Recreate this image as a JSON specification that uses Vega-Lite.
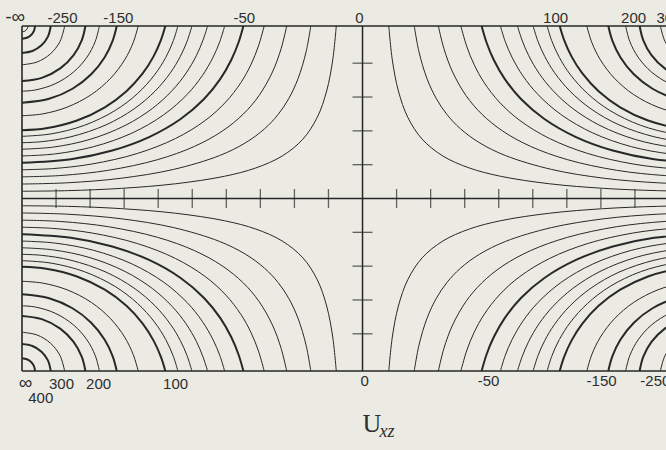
{
  "$schema": "https://vega.github.io/schema/vega-lite/v6.json",
  "autosize": "none",
  "width": 644,
  "height": 345,
  "padding": {"left": 22, "top": 26, "right": 0, "bottom": 79},
  "background": "#ebebe4",
  "config": {"view": {"stroke": null}},
  "datasets": {
    "contours": [
      {"q":"tl","v":-10,"x":-0.771,"y":5.1},{"q":"tl","v":-10,"x":-0.875,"y":4.095},{"q":"tl","v":-10,"x":-1.053,"y":3.18},{"q":"tl","v":-10,"x":-1.329,"y":2.401},{"q":"tl","v":-10,"x":-1.753,"y":1.753},{"q":"tl","v":-10,"x":-2.361,"y":1.255},{"q":"tl","v":-10,"x":-3.133,"y":0.904},{"q":"tl","v":-10,"x":-4.054,"y":0.657},{"q":"tl","v":-10,"x":-5.495,"y":0.435},{"q":"tl","v":-10,"x":-7.077,"y":0.3},{"q":"tl","v":-10,"x":-8.663,"y":0.232},{"q":"tl","v":-10,"x":-10,"y":0.2145},
      {"q":"tl","v":-20,"x":-1.519,"y":5.1},{"q":"tl","v":-20,"x":-1.659,"y":4.33},{"q":"tl","v":-20,"x":-1.892,"y":3.547},{"q":"tl","v":-20,"x":-2.168,"y":2.95},{"q":"tl","v":-20,"x":-2.481,"y":2.481},{"q":"tl","v":-20,"x":-2.874,"y":2.064},{"q":"tl","v":-20,"x":-3.426,"y":1.654},{"q":"tl","v":-20,"x":-4.197,"y":1.27},{"q":"tl","v":-20,"x":-5.545,"y":0.861},{"q":"tl","v":-20,"x":-7.096,"y":0.598},{"q":"tl","v":-20,"x":-8.673,"y":0.464},{"q":"tl","v":-20,"x":-10,"y":0.428},
      {"q":"tl","v":-30,"x":-2.227,"y":5.1},{"q":"tl","v":-30,"x":-2.388,"y":4.439},{"q":"tl","v":-30,"x":-2.645,"y":3.741},{"q":"tl","v":-30,"x":-3.041,"y":3.041},{"q":"tl","v":-30,"x":-3.499,"y":2.498},{"q":"tl","v":-30,"x":-4.119,"y":1.992},{"q":"tl","v":-30,"x":-4.937,"y":1.54},{"q":"tl","v":-30,"x":-6.026,"y":1.146},{"q":"tl","v":-30,"x":-7.463,"y":0.834},{"q":"tl","v":-30,"x":-8.858,"y":0.68},{"q":"tl","v":-30,"x":-10,"y":0.64},
      {"q":"tl","v":-40,"x":-2.887,"y":5.1},{"q":"tl","v":-40,"x":-3.056,"y":4.51},{"q":"tl","v":-40,"x":-3.274,"y":3.965},{"q":"tl","v":-40,"x":-3.571,"y":3.428},{"q":"tl","v":-40,"x":-4.017,"y":2.852},{"q":"tl","v":-40,"x":-4.618,"y":2.308},{"q":"tl","v":-40,"x":-5.491,"y":1.774},{"q":"tl","v":-40,"x":-6.616,"y":1.33},{"q":"tl","v":-40,"x":-7.94,"y":1.021},{"q":"tl","v":-40,"x":-9.098,"y":0.884},{"q":"tl","v":-40,"x":-10,"y":0.8495},
      {"q":"tl","v":-50,"x":-3.498,"y":5.1},{"q":"tl","v":-50,"x":-3.642,"y":4.612},{"q":"tl","v":-50,"x":-3.852,"y":4.104},{"q":"tl","v":-50,"x":-4.18,"y":3.531},{"q":"tl","v":-50,"x":-4.654,"y":2.942},{"q":"tl","v":-50,"x":-5.341,"y":2.35},{"q":"tl","v":-50,"x":-6.269,"y":1.816},{"q":"tl","v":-50,"x":-7.349,"y":1.418},{"q":"tl","v":-50,"x":-8.564,"y":1.161},{"q":"tl","v":-50,"x":-10,"y":1.056},
      {"q":"tl","v":-60,"x":-4.049,"y":5.1},{"q":"tl","v":-60,"x":-4.19,"y":4.643},{"q":"tl","v":-60,"x":-4.396,"y":4.163},{"q":"tl","v":-60,"x":-4.708,"y":3.628},{"q":"tl","v":-60,"x":-5.147,"y":3.08},{"q":"tl","v":-60,"x":-5.841,"y":2.473},{"q":"tl","v":-60,"x":-6.764,"y":1.937},{"q":"tl","v":-60,"x":-7.896,"y":1.532},{"q":"tl","v":-60,"x":-9.041,"y":1.317},{"q":"tl","v":-60,"x":-10,"y":1.2586},
      {"q":"tl","v":-70,"x":-4.55,"y":5.1},{"q":"tl","v":-70,"x":-4.684,"y":4.684},{"q":"tl","v":-70,"x":-4.881,"y":4.222},{"q":"tl","v":-70,"x":-5.176,"y":3.714},{"q":"tl","v":-70,"x":-5.587,"y":3.195},{"q":"tl","v":-70,"x":-6.171,"y":2.662},{"q":"tl","v":-70,"x":-6.975,"y":2.157},{"q":"tl","v":-70,"x":-8.004,"y":1.748},{"q":"tl","v":-70,"x":-9.073,"y":1.521},{"q":"tl","v":-70,"x":-10,"y":1.457},
      {"q":"tl","v":-80,"x":-5.009,"y":5.1},{"q":"tl","v":-80,"x":-5.154,"y":4.643},{"q":"tl","v":-80,"x":-5.351,"y":4.2},{"q":"tl","v":-80,"x":-5.641,"y":3.718},{"q":"tl","v":-80,"x":-6.09,"y":3.176},{"q":"tl","v":-80,"x":-6.709,"y":2.649},{"q":"tl","v":-80,"x":-7.533,"y":2.177},{"q":"tl","v":-80,"x":-8.563,"y":1.825},{"q":"tl","v":-80,"x":-9.425,"y":1.68},{"q":"tl","v":-80,"x":-10,"y":1.65},
      {"q":"tl","v":-90,"x":-5.422,"y":5.1},{"q":"tl","v":-90,"x":-5.553,"y":4.673},{"q":"tl","v":-90,"x":-5.779,"y":4.171},{"q":"tl","v":-90,"x":-6.11,"y":3.652},{"q":"tl","v":-90,"x":-6.606,"y":3.104},{"q":"tl","v":-90,"x":-7.264,"y":2.602},{"q":"tl","v":-90,"x":-8.166,"y":2.164},{"q":"tl","v":-90,"x":-9.146,"y":1.91},{"q":"tl","v":-90,"x":-10,"y":1.838},
      {"q":"tl","v":-100,"x":-5.791,"y":5.1},{"q":"tl","v":-100,"x":-5.918,"y":4.692},{"q":"tl","v":-100,"x":-6.136,"y":4.202},{"q":"tl","v":-100,"x":-6.456,"y":3.699},{"q":"tl","v":-100,"x":-6.933,"y":3.173},{"q":"tl","v":-100,"x":-7.568,"y":2.696},{"q":"tl","v":-100,"x":-8.385,"y":2.305},{"q":"tl","v":-100,"x":-9.291,"y":2.077},{"q":"tl","v":-100,"x":-10,"y":2.0195},
      {"q":"tl","v":-125,"x":-6.587,"y":5.1},{"q":"tl","v":-125,"x":-6.732,"y":4.617},{"q":"tl","v":-125,"x":-6.986,"y":4.098},{"q":"tl","v":-125,"x":-7.394,"y":3.559},{"q":"tl","v":-125,"x":-7.965,"y":3.071},{"q":"tl","v":-125,"x":-8.677,"y":2.699},{"q":"tl","v":-125,"x":-9.395,"y":2.501},{"q":"tl","v":-125,"x":-10,"y":2.4465},
      {"q":"tl","v":-150,"x":-7.218,"y":5.1},{"q":"tl","v":-150,"x":-7.336,"y":4.67},{"q":"tl","v":-150,"x":-7.576,"y":4.171},{"q":"tl","v":-150,"x":-7.968,"y":3.673},{"q":"tl","v":-150,"x":-8.517,"y":3.245},{"q":"tl","v":-150,"x":-9.203,"y":2.948},{"q":"tl","v":-150,"x":-10,"y":2.831},
      {"q":"tl","v":-175,"x":-7.727,"y":5.1},{"q":"tl","v":-175,"x":-7.848,"y":4.646},{"q":"tl","v":-175,"x":-8.092,"y":4.18},{"q":"tl","v":-175,"x":-8.485,"y":3.74},{"q":"tl","v":-175,"x":-9.028,"y":3.391},{"q":"tl","v":-175,"x":-9.607,"y":3.209},{"q":"tl","v":-175,"x":-10,"y":3.1725},
      {"q":"tl","v":-200,"x":-8.138,"y":5.1},{"q":"tl","v":-200,"x":-8.243,"y":4.685},{"q":"tl","v":-200,"x":-8.485,"y":4.241},{"q":"tl","v":-200,"x":-8.877,"y":3.847},{"q":"tl","v":-200,"x":-9.419,"y":3.567},{"q":"tl","v":-200,"x":-10,"y":3.4717},
      {"q":"tl","v":-250,"x":-8.747,"y":5.1},{"q":"tl","v":-250,"x":-8.886,"y":4.6385},{"q":"tl","v":-250,"x":-9.171,"y":4.271},{"q":"tl","v":-250,"x":-9.559,"y":4.035},{"q":"tl","v":-250,"x":-10,"y":3.9534},
      {"q":"tl","v":-300,"x":-9.155,"y":5.1},{"q":"tl","v":-300,"x":-9.239,"y":4.785},{"q":"tl","v":-300,"x":-9.428,"y":4.528},{"q":"tl","v":-300,"x":-9.694,"y":4.361},{"q":"tl","v":-300,"x":-10,"y":4.3037},
      {"q":"tl","v":-400,"x":-9.616,"y":5.1},{"q":"tl","v":-400,"x":-9.648,"y":4.954},{"q":"tl","v":-400,"x":-9.733,"y":4.833},{"q":"tl","v":-400,"x":-9.857,"y":4.754},{"q":"tl","v":-400,"x":-10,"y":4.726},
      {"q":"tl","v":-500,"x":-9.825,"y":5.1},{"q":"tl","v":-500,"x":-9.849,"y":5.013},{"q":"tl","v":-500,"x":-9.913,"y":4.949},{"q":"tl","v":-500,"x":-10,"y":4.927},

      {"q":"tr","v":10,"x":0.771,"y":5.1},{"q":"tr","v":10,"x":0.875,"y":4.095},{"q":"tr","v":10,"x":1.053,"y":3.18},{"q":"tr","v":10,"x":1.329,"y":2.401},{"q":"tr","v":10,"x":1.753,"y":1.753},{"q":"tr","v":10,"x":2.361,"y":1.255},{"q":"tr","v":10,"x":3.133,"y":0.904},{"q":"tr","v":10,"x":4.054,"y":0.657},{"q":"tr","v":10,"x":5.495,"y":0.435},{"q":"tr","v":10,"x":7.077,"y":0.3},{"q":"tr","v":10,"x":8.663,"y":0.232},{"q":"tr","v":10,"x":10,"y":0.2145},
      {"q":"tr","v":20,"x":1.519,"y":5.1},{"q":"tr","v":20,"x":1.659,"y":4.33},{"q":"tr","v":20,"x":1.892,"y":3.547},{"q":"tr","v":20,"x":2.168,"y":2.95},{"q":"tr","v":20,"x":2.481,"y":2.481},{"q":"tr","v":20,"x":2.874,"y":2.064},{"q":"tr","v":20,"x":3.426,"y":1.654},{"q":"tr","v":20,"x":4.197,"y":1.27},{"q":"tr","v":20,"x":5.545,"y":0.861},{"q":"tr","v":20,"x":7.096,"y":0.598},{"q":"tr","v":20,"x":8.673,"y":0.464},{"q":"tr","v":20,"x":10,"y":0.428},
      {"q":"tr","v":30,"x":2.227,"y":5.1},{"q":"tr","v":30,"x":2.388,"y":4.439},{"q":"tr","v":30,"x":2.645,"y":3.741},{"q":"tr","v":30,"x":3.041,"y":3.041},{"q":"tr","v":30,"x":3.499,"y":2.498},{"q":"tr","v":30,"x":4.119,"y":1.992},{"q":"tr","v":30,"x":4.937,"y":1.54},{"q":"tr","v":30,"x":6.026,"y":1.146},{"q":"tr","v":30,"x":7.463,"y":0.834},{"q":"tr","v":30,"x":8.858,"y":0.68},{"q":"tr","v":30,"x":10,"y":0.64},
      {"q":"tr","v":40,"x":2.887,"y":5.1},{"q":"tr","v":40,"x":3.056,"y":4.51},{"q":"tr","v":40,"x":3.274,"y":3.965},{"q":"tr","v":40,"x":3.571,"y":3.428},{"q":"tr","v":40,"x":4.017,"y":2.852},{"q":"tr","v":40,"x":4.618,"y":2.308},{"q":"tr","v":40,"x":5.491,"y":1.774},{"q":"tr","v":40,"x":6.616,"y":1.33},{"q":"tr","v":40,"x":7.94,"y":1.021},{"q":"tr","v":40,"x":9.098,"y":0.884},{"q":"tr","v":40,"x":10,"y":0.8495},
      {"q":"tr","v":50,"x":3.498,"y":5.1},{"q":"tr","v":50,"x":3.642,"y":4.612},{"q":"tr","v":50,"x":3.852,"y":4.104},{"q":"tr","v":50,"x":4.18,"y":3.531},{"q":"tr","v":50,"x":4.654,"y":2.942},{"q":"tr","v":50,"x":5.341,"y":2.35},{"q":"tr","v":50,"x":6.269,"y":1.816},{"q":"tr","v":50,"x":7.349,"y":1.418},{"q":"tr","v":50,"x":8.564,"y":1.161},{"q":"tr","v":50,"x":10,"y":1.056},
      {"q":"tr","v":60,"x":4.049,"y":5.1},{"q":"tr","v":60,"x":4.19,"y":4.643},{"q":"tr","v":60,"x":4.396,"y":4.163},{"q":"tr","v":60,"x":4.708,"y":3.628},{"q":"tr","v":60,"x":5.147,"y":3.08},{"q":"tr","v":60,"x":5.841,"y":2.473},{"q":"tr","v":60,"x":6.764,"y":1.937},{"q":"tr","v":60,"x":7.896,"y":1.532},{"q":"tr","v":60,"x":9.041,"y":1.317},{"q":"tr","v":60,"x":10,"y":1.2586},
      {"q":"tr","v":70,"x":4.55,"y":5.1},{"q":"tr","v":70,"x":4.684,"y":4.684},{"q":"tr","v":70,"x":4.881,"y":4.222},{"q":"tr","v":70,"x":5.176,"y":3.714},{"q":"tr","v":70,"x":5.587,"y":3.195},{"q":"tr","v":70,"x":6.171,"y":2.662},{"q":"tr","v":70,"x":6.975,"y":2.157},{"q":"tr","v":70,"x":8.004,"y":1.748},{"q":"tr","v":70,"x":9.073,"y":1.521},{"q":"tr","v":70,"x":10,"y":1.457},
      {"q":"tr","v":80,"x":5.009,"y":5.1},{"q":"tr","v":80,"x":5.154,"y":4.643},{"q":"tr","v":80,"x":5.351,"y":4.2},{"q":"tr","v":80,"x":5.641,"y":3.718},{"q":"tr","v":80,"x":6.09,"y":3.176},{"q":"tr","v":80,"x":6.709,"y":2.649},{"q":"tr","v":80,"x":7.533,"y":2.177},{"q":"tr","v":80,"x":8.563,"y":1.825},{"q":"tr","v":80,"x":9.425,"y":1.68},{"q":"tr","v":80,"x":10,"y":1.65},
      {"q":"tr","v":90,"x":5.422,"y":5.1},{"q":"tr","v":90,"x":5.553,"y":4.673},{"q":"tr","v":90,"x":5.779,"y":4.171},{"q":"tr","v":90,"x":6.11,"y":3.652},{"q":"tr","v":90,"x":6.606,"y":3.104},{"q":"tr","v":90,"x":7.264,"y":2.602},{"q":"tr","v":90,"x":8.166,"y":2.164},{"q":"tr","v":90,"x":9.146,"y":1.91},{"q":"tr","v":90,"x":10,"y":1.838},
      {"q":"tr","v":100,"x":5.791,"y":5.1},{"q":"tr","v":100,"x":5.918,"y":4.692},{"q":"tr","v":100,"x":6.136,"y":4.202},{"q":"tr","v":100,"x":6.456,"y":3.699},{"q":"tr","v":100,"x":6.933,"y":3.173},{"q":"tr","v":100,"x":7.568,"y":2.696},{"q":"tr","v":100,"x":8.385,"y":2.305},{"q":"tr","v":100,"x":9.291,"y":2.077},{"q":"tr","v":100,"x":10,"y":2.0195},
      {"q":"tr","v":125,"x":6.587,"y":5.1},{"q":"tr","v":125,"x":6.732,"y":4.617},{"q":"tr","v":125,"x":6.986,"y":4.098},{"q":"tr","v":125,"x":7.394,"y":3.559},{"q":"tr","v":125,"x":7.965,"y":3.071},{"q":"tr","v":125,"x":8.677,"y":2.699},{"q":"tr","v":125,"x":9.395,"y":2.501},{"q":"tr","v":125,"x":10,"y":2.4465},
      {"q":"tr","v":150,"x":7.218,"y":5.1},{"q":"tr","v":150,"x":7.336,"y":4.67},{"q":"tr","v":150,"x":7.576,"y":4.171},{"q":"tr","v":150,"x":7.968,"y":3.673},{"q":"tr","v":150,"x":8.517,"y":3.245},{"q":"tr","v":150,"x":9.203,"y":2.948},{"q":"tr","v":150,"x":10,"y":2.831},
      {"q":"tr","v":175,"x":7.727,"y":5.1},{"q":"tr","v":175,"x":7.848,"y":4.646},{"q":"tr","v":175,"x":8.092,"y":4.18},{"q":"tr","v":175,"x":8.485,"y":3.74},{"q":"tr","v":175,"x":9.028,"y":3.391},{"q":"tr","v":175,"x":9.607,"y":3.209},{"q":"tr","v":175,"x":10,"y":3.1725},
      {"q":"tr","v":200,"x":8.138,"y":5.1},{"q":"tr","v":200,"x":8.243,"y":4.685},{"q":"tr","v":200,"x":8.485,"y":4.241},{"q":"tr","v":200,"x":8.877,"y":3.847},{"q":"tr","v":200,"x":9.419,"y":3.567},{"q":"tr","v":200,"x":10,"y":3.4717},
      {"q":"tr","v":250,"x":8.747,"y":5.1},{"q":"tr","v":250,"x":8.886,"y":4.6385},{"q":"tr","v":250,"x":9.171,"y":4.271},{"q":"tr","v":250,"x":9.559,"y":4.035},{"q":"tr","v":250,"x":10,"y":3.9534},
      {"q":"tr","v":300,"x":9.155,"y":5.1},{"q":"tr","v":300,"x":9.239,"y":4.785},{"q":"tr","v":300,"x":9.428,"y":4.528},{"q":"tr","v":300,"x":9.694,"y":4.361},{"q":"tr","v":300,"x":10,"y":4.3037},

      {"q":"bl","v":10,"x":-0.771,"y":-5.1},{"q":"bl","v":10,"x":-0.875,"y":-4.095},{"q":"bl","v":10,"x":-1.053,"y":-3.18},{"q":"bl","v":10,"x":-1.329,"y":-2.401},{"q":"bl","v":10,"x":-1.753,"y":-1.753},{"q":"bl","v":10,"x":-2.361,"y":-1.255},{"q":"bl","v":10,"x":-3.133,"y":-0.904},{"q":"bl","v":10,"x":-4.054,"y":-0.657},{"q":"bl","v":10,"x":-5.495,"y":-0.435},{"q":"bl","v":10,"x":-7.077,"y":-0.3},{"q":"bl","v":10,"x":-8.663,"y":-0.232},{"q":"bl","v":10,"x":-10,"y":-0.2145},
      {"q":"bl","v":20,"x":-1.519,"y":-5.1},{"q":"bl","v":20,"x":-1.659,"y":-4.33},{"q":"bl","v":20,"x":-1.892,"y":-3.547},{"q":"bl","v":20,"x":-2.168,"y":-2.95},{"q":"bl","v":20,"x":-2.481,"y":-2.481},{"q":"bl","v":20,"x":-2.874,"y":-2.064},{"q":"bl","v":20,"x":-3.426,"y":-1.654},{"q":"bl","v":20,"x":-4.197,"y":-1.27},{"q":"bl","v":20,"x":-5.545,"y":-0.861},{"q":"bl","v":20,"x":-7.096,"y":-0.598},{"q":"bl","v":20,"x":-8.673,"y":-0.464},{"q":"bl","v":20,"x":-10,"y":-0.428},
      {"q":"bl","v":30,"x":-2.227,"y":-5.1},{"q":"bl","v":30,"x":-2.388,"y":-4.439},{"q":"bl","v":30,"x":-2.645,"y":-3.741},{"q":"bl","v":30,"x":-3.041,"y":-3.041},{"q":"bl","v":30,"x":-3.499,"y":-2.498},{"q":"bl","v":30,"x":-4.119,"y":-1.992},{"q":"bl","v":30,"x":-4.937,"y":-1.54},{"q":"bl","v":30,"x":-6.026,"y":-1.146},{"q":"bl","v":30,"x":-7.463,"y":-0.834},{"q":"bl","v":30,"x":-8.858,"y":-0.68},{"q":"bl","v":30,"x":-10,"y":-0.64},
      {"q":"bl","v":40,"x":-2.887,"y":-5.1},{"q":"bl","v":40,"x":-3.056,"y":-4.51},{"q":"bl","v":40,"x":-3.274,"y":-3.965},{"q":"bl","v":40,"x":-3.571,"y":-3.428},{"q":"bl","v":40,"x":-4.017,"y":-2.852},{"q":"bl","v":40,"x":-4.618,"y":-2.308},{"q":"bl","v":40,"x":-5.491,"y":-1.774},{"q":"bl","v":40,"x":-6.616,"y":-1.33},{"q":"bl","v":40,"x":-7.94,"y":-1.021},{"q":"bl","v":40,"x":-9.098,"y":-0.884},{"q":"bl","v":40,"x":-10,"y":-0.8495},
      {"q":"bl","v":50,"x":-3.498,"y":-5.1},{"q":"bl","v":50,"x":-3.642,"y":-4.612},{"q":"bl","v":50,"x":-3.852,"y":-4.104},{"q":"bl","v":50,"x":-4.18,"y":-3.531},{"q":"bl","v":50,"x":-4.654,"y":-2.942},{"q":"bl","v":50,"x":-5.341,"y":-2.35},{"q":"bl","v":50,"x":-6.269,"y":-1.816},{"q":"bl","v":50,"x":-7.349,"y":-1.418},{"q":"bl","v":50,"x":-8.564,"y":-1.161},{"q":"bl","v":50,"x":-10,"y":-1.056},
      {"q":"bl","v":60,"x":-4.049,"y":-5.1},{"q":"bl","v":60,"x":-4.19,"y":-4.643},{"q":"bl","v":60,"x":-4.396,"y":-4.163},{"q":"bl","v":60,"x":-4.708,"y":-3.628},{"q":"bl","v":60,"x":-5.147,"y":-3.08},{"q":"bl","v":60,"x":-5.841,"y":-2.473},{"q":"bl","v":60,"x":-6.764,"y":-1.937},{"q":"bl","v":60,"x":-7.896,"y":-1.532},{"q":"bl","v":60,"x":-9.041,"y":-1.317},{"q":"bl","v":60,"x":-10,"y":-1.2586},
      {"q":"bl","v":70,"x":-4.55,"y":-5.1},{"q":"bl","v":70,"x":-4.684,"y":-4.684},{"q":"bl","v":70,"x":-4.881,"y":-4.222},{"q":"bl","v":70,"x":-5.176,"y":-3.714},{"q":"bl","v":70,"x":-5.587,"y":-3.195},{"q":"bl","v":70,"x":-6.171,"y":-2.662},{"q":"bl","v":70,"x":-6.975,"y":-2.157},{"q":"bl","v":70,"x":-8.004,"y":-1.748},{"q":"bl","v":70,"x":-9.073,"y":-1.521},{"q":"bl","v":70,"x":-10,"y":-1.457},
      {"q":"bl","v":80,"x":-5.009,"y":-5.1},{"q":"bl","v":80,"x":-5.154,"y":-4.643},{"q":"bl","v":80,"x":-5.351,"y":-4.2},{"q":"bl","v":80,"x":-5.641,"y":-3.718},{"q":"bl","v":80,"x":-6.09,"y":-3.176},{"q":"bl","v":80,"x":-6.709,"y":-2.649},{"q":"bl","v":80,"x":-7.533,"y":-2.177},{"q":"bl","v":80,"x":-8.563,"y":-1.825},{"q":"bl","v":80,"x":-9.425,"y":-1.68},{"q":"bl","v":80,"x":-10,"y":-1.65},
      {"q":"bl","v":90,"x":-5.422,"y":-5.1},{"q":"bl","v":90,"x":-5.553,"y":-4.673},{"q":"bl","v":90,"x":-5.779,"y":-4.171},{"q":"bl","v":90,"x":-6.11,"y":-3.652},{"q":"bl","v":90,"x":-6.606,"y":-3.104},{"q":"bl","v":90,"x":-7.264,"y":-2.602},{"q":"bl","v":90,"x":-8.166,"y":-2.164},{"q":"bl","v":90,"x":-9.146,"y":-1.91},{"q":"bl","v":90,"x":-10,"y":-1.838},
      {"q":"bl","v":100,"x":-5.791,"y":-5.1},{"q":"bl","v":100,"x":-5.918,"y":-4.692},{"q":"bl","v":100,"x":-6.136,"y":-4.202},{"q":"bl","v":100,"x":-6.456,"y":-3.699},{"q":"bl","v":100,"x":-6.933,"y":-3.173},{"q":"bl","v":100,"x":-7.568,"y":-2.696},{"q":"bl","v":100,"x":-8.385,"y":-2.305},{"q":"bl","v":100,"x":-9.291,"y":-2.077},{"q":"bl","v":100,"x":-10,"y":-2.0195},
      {"q":"bl","v":125,"x":-6.587,"y":-5.1},{"q":"bl","v":125,"x":-6.732,"y":-4.617},{"q":"bl","v":125,"x":-6.986,"y":-4.098},{"q":"bl","v":125,"x":-7.394,"y":-3.559},{"q":"bl","v":125,"x":-7.965,"y":-3.071},{"q":"bl","v":125,"x":-8.677,"y":-2.699},{"q":"bl","v":125,"x":-9.395,"y":-2.501},{"q":"bl","v":125,"x":-10,"y":-2.4465},
      {"q":"bl","v":150,"x":-7.218,"y":-5.1},{"q":"bl","v":150,"x":-7.336,"y":-4.67},{"q":"bl","v":150,"x":-7.576,"y":-4.171},{"q":"bl","v":150,"x":-7.968,"y":-3.673},{"q":"bl","v":150,"x":-8.517,"y":-3.245},{"q":"bl","v":150,"x":-9.203,"y":-2.948},{"q":"bl","v":150,"x":-10,"y":-2.831},
      {"q":"bl","v":175,"x":-7.727,"y":-5.1},{"q":"bl","v":175,"x":-7.848,"y":-4.646},{"q":"bl","v":175,"x":-8.092,"y":-4.18},{"q":"bl","v":175,"x":-8.485,"y":-3.74},{"q":"bl","v":175,"x":-9.028,"y":-3.391},{"q":"bl","v":175,"x":-9.607,"y":-3.209},{"q":"bl","v":175,"x":-10,"y":-3.1725},
      {"q":"bl","v":200,"x":-8.138,"y":-5.1},{"q":"bl","v":200,"x":-8.243,"y":-4.685},{"q":"bl","v":200,"x":-8.485,"y":-4.241},{"q":"bl","v":200,"x":-8.877,"y":-3.847},{"q":"bl","v":200,"x":-9.419,"y":-3.567},{"q":"bl","v":200,"x":-10,"y":-3.4717},
      {"q":"bl","v":250,"x":-8.747,"y":-5.1},{"q":"bl","v":250,"x":-8.886,"y":-4.6385},{"q":"bl","v":250,"x":-9.171,"y":-4.271},{"q":"bl","v":250,"x":-9.559,"y":-4.035},{"q":"bl","v":250,"x":-10,"y":-3.9534},
      {"q":"bl","v":300,"x":-9.155,"y":-5.1},{"q":"bl","v":300,"x":-9.239,"y":-4.785},{"q":"bl","v":300,"x":-9.428,"y":-4.528},{"q":"bl","v":300,"x":-9.694,"y":-4.361},{"q":"bl","v":300,"x":-10,"y":-4.3037},
      {"q":"bl","v":400,"x":-9.616,"y":-5.1},{"q":"bl","v":400,"x":-9.648,"y":-4.954},{"q":"bl","v":400,"x":-9.733,"y":-4.833},{"q":"bl","v":400,"x":-9.857,"y":-4.754},{"q":"bl","v":400,"x":-10,"y":-4.726},

      {"q":"br","v":-10,"x":0.771,"y":-5.1},{"q":"br","v":-10,"x":0.875,"y":-4.095},{"q":"br","v":-10,"x":1.053,"y":-3.18},{"q":"br","v":-10,"x":1.329,"y":-2.401},{"q":"br","v":-10,"x":1.753,"y":-1.753},{"q":"br","v":-10,"x":2.361,"y":-1.255},{"q":"br","v":-10,"x":3.133,"y":-0.904},{"q":"br","v":-10,"x":4.054,"y":-0.657},{"q":"br","v":-10,"x":5.495,"y":-0.435},{"q":"br","v":-10,"x":7.077,"y":-0.3},{"q":"br","v":-10,"x":8.663,"y":-0.232},{"q":"br","v":-10,"x":10,"y":-0.2145},
      {"q":"br","v":-20,"x":1.519,"y":-5.1},{"q":"br","v":-20,"x":1.659,"y":-4.33},{"q":"br","v":-20,"x":1.892,"y":-3.547},{"q":"br","v":-20,"x":2.168,"y":-2.95},{"q":"br","v":-20,"x":2.481,"y":-2.481},{"q":"br","v":-20,"x":2.874,"y":-2.064},{"q":"br","v":-20,"x":3.426,"y":-1.654},{"q":"br","v":-20,"x":4.197,"y":-1.27},{"q":"br","v":-20,"x":5.545,"y":-0.861},{"q":"br","v":-20,"x":7.096,"y":-0.598},{"q":"br","v":-20,"x":8.673,"y":-0.464},{"q":"br","v":-20,"x":10,"y":-0.428},
      {"q":"br","v":-30,"x":2.227,"y":-5.1},{"q":"br","v":-30,"x":2.388,"y":-4.439},{"q":"br","v":-30,"x":2.645,"y":-3.741},{"q":"br","v":-30,"x":3.041,"y":-3.041},{"q":"br","v":-30,"x":3.499,"y":-2.498},{"q":"br","v":-30,"x":4.119,"y":-1.992},{"q":"br","v":-30,"x":4.937,"y":-1.54},{"q":"br","v":-30,"x":6.026,"y":-1.146},{"q":"br","v":-30,"x":7.463,"y":-0.834},{"q":"br","v":-30,"x":8.858,"y":-0.68},{"q":"br","v":-30,"x":10,"y":-0.64},
      {"q":"br","v":-40,"x":2.887,"y":-5.1},{"q":"br","v":-40,"x":3.056,"y":-4.51},{"q":"br","v":-40,"x":3.274,"y":-3.965},{"q":"br","v":-40,"x":3.571,"y":-3.428},{"q":"br","v":-40,"x":4.017,"y":-2.852},{"q":"br","v":-40,"x":4.618,"y":-2.308},{"q":"br","v":-40,"x":5.491,"y":-1.774},{"q":"br","v":-40,"x":6.616,"y":-1.33},{"q":"br","v":-40,"x":7.94,"y":-1.021},{"q":"br","v":-40,"x":9.098,"y":-0.884},{"q":"br","v":-40,"x":10,"y":-0.8495},
      {"q":"br","v":-50,"x":3.498,"y":-5.1},{"q":"br","v":-50,"x":3.642,"y":-4.612},{"q":"br","v":-50,"x":3.852,"y":-4.104},{"q":"br","v":-50,"x":4.18,"y":-3.531},{"q":"br","v":-50,"x":4.654,"y":-2.942},{"q":"br","v":-50,"x":5.341,"y":-2.35},{"q":"br","v":-50,"x":6.269,"y":-1.816},{"q":"br","v":-50,"x":7.349,"y":-1.418},{"q":"br","v":-50,"x":8.564,"y":-1.161},{"q":"br","v":-50,"x":10,"y":-1.056},
      {"q":"br","v":-60,"x":4.049,"y":-5.1},{"q":"br","v":-60,"x":4.19,"y":-4.643},{"q":"br","v":-60,"x":4.396,"y":-4.163},{"q":"br","v":-60,"x":4.708,"y":-3.628},{"q":"br","v":-60,"x":5.147,"y":-3.08},{"q":"br","v":-60,"x":5.841,"y":-2.473},{"q":"br","v":-60,"x":6.764,"y":-1.937},{"q":"br","v":-60,"x":7.896,"y":-1.532},{"q":"br","v":-60,"x":9.041,"y":-1.317},{"q":"br","v":-60,"x":10,"y":-1.2586},
      {"q":"br","v":-70,"x":4.55,"y":-5.1},{"q":"br","v":-70,"x":4.684,"y":-4.684},{"q":"br","v":-70,"x":4.881,"y":-4.222},{"q":"br","v":-70,"x":5.176,"y":-3.714},{"q":"br","v":-70,"x":5.587,"y":-3.195},{"q":"br","v":-70,"x":6.171,"y":-2.662},{"q":"br","v":-70,"x":6.975,"y":-2.157},{"q":"br","v":-70,"x":8.004,"y":-1.748},{"q":"br","v":-70,"x":9.073,"y":-1.521},{"q":"br","v":-70,"x":10,"y":-1.457},
      {"q":"br","v":-80,"x":5.009,"y":-5.1},{"q":"br","v":-80,"x":5.154,"y":-4.643},{"q":"br","v":-80,"x":5.351,"y":-4.2},{"q":"br","v":-80,"x":5.641,"y":-3.718},{"q":"br","v":-80,"x":6.09,"y":-3.176},{"q":"br","v":-80,"x":6.709,"y":-2.649},{"q":"br","v":-80,"x":7.533,"y":-2.177},{"q":"br","v":-80,"x":8.563,"y":-1.825},{"q":"br","v":-80,"x":9.425,"y":-1.68},{"q":"br","v":-80,"x":10,"y":-1.65},
      {"q":"br","v":-90,"x":5.422,"y":-5.1},{"q":"br","v":-90,"x":5.553,"y":-4.673},{"q":"br","v":-90,"x":5.779,"y":-4.171},{"q":"br","v":-90,"x":6.11,"y":-3.652},{"q":"br","v":-90,"x":6.606,"y":-3.104},{"q":"br","v":-90,"x":7.264,"y":-2.602},{"q":"br","v":-90,"x":8.166,"y":-2.164},{"q":"br","v":-90,"x":9.146,"y":-1.91},{"q":"br","v":-90,"x":10,"y":-1.838},
      {"q":"br","v":-100,"x":5.791,"y":-5.1},{"q":"br","v":-100,"x":5.918,"y":-4.692},{"q":"br","v":-100,"x":6.136,"y":-4.202},{"q":"br","v":-100,"x":6.456,"y":-3.699},{"q":"br","v":-100,"x":6.933,"y":-3.173},{"q":"br","v":-100,"x":7.568,"y":-2.696},{"q":"br","v":-100,"x":8.385,"y":-2.305},{"q":"br","v":-100,"x":9.291,"y":-2.077},{"q":"br","v":-100,"x":10,"y":-2.0195},
      {"q":"br","v":-125,"x":6.587,"y":-5.1},{"q":"br","v":-125,"x":6.732,"y":-4.617},{"q":"br","v":-125,"x":6.986,"y":-4.098},{"q":"br","v":-125,"x":7.394,"y":-3.559},{"q":"br","v":-125,"x":7.965,"y":-3.071},{"q":"br","v":-125,"x":8.677,"y":-2.699},{"q":"br","v":-125,"x":9.395,"y":-2.501},{"q":"br","v":-125,"x":10,"y":-2.4465},
      {"q":"br","v":-150,"x":7.218,"y":-5.1},{"q":"br","v":-150,"x":7.336,"y":-4.67},{"q":"br","v":-150,"x":7.576,"y":-4.171},{"q":"br","v":-150,"x":7.968,"y":-3.673},{"q":"br","v":-150,"x":8.517,"y":-3.245},{"q":"br","v":-150,"x":9.203,"y":-2.948},{"q":"br","v":-150,"x":10,"y":-2.831},
      {"q":"br","v":-175,"x":7.727,"y":-5.1},{"q":"br","v":-175,"x":7.848,"y":-4.646},{"q":"br","v":-175,"x":8.092,"y":-4.18},{"q":"br","v":-175,"x":8.485,"y":-3.74},{"q":"br","v":-175,"x":9.028,"y":-3.391},{"q":"br","v":-175,"x":9.607,"y":-3.209},{"q":"br","v":-175,"x":10,"y":-3.1725},
      {"q":"br","v":-200,"x":8.138,"y":-5.1},{"q":"br","v":-200,"x":8.243,"y":-4.685},{"q":"br","v":-200,"x":8.485,"y":-4.241},{"q":"br","v":-200,"x":8.877,"y":-3.847},{"q":"br","v":-200,"x":9.419,"y":-3.567},{"q":"br","v":-200,"x":10,"y":-3.4717},
      {"q":"br","v":-250,"x":8.747,"y":-5.1},{"q":"br","v":-250,"x":8.886,"y":-4.6385},{"q":"br","v":-250,"x":9.171,"y":-4.271},{"q":"br","v":-250,"x":9.559,"y":-4.035},{"q":"br","v":-250,"x":10,"y":-3.9534},
      {"q":"br","v":-300,"x":9.155,"y":-5.1},{"q":"br","v":-300,"x":9.239,"y":-4.785},{"q":"br","v":-300,"x":9.428,"y":-4.528},{"q":"br","v":-300,"x":9.694,"y":-4.361},{"q":"br","v":-300,"x":10,"y":-4.3037}
    ],
    "xticks": [{"x":-9},{"x":-8},{"x":-7},{"x":-6},{"x":-5},{"x":-4},{"x":-3},{"x":-2},{"x":-1},{"x":1},{"x":2},{"x":3},{"x":4},{"x":5},{"x":6},{"x":7},{"x":8}],
    "yticks": [{"y":-4},{"y":-3},{"y":-2},{"y":-1},{"y":1},{"y":2},{"y":3},{"y":4}],
    "labels": [
      {"t":"-∞","x":-10.2,"y":5.2},
      {"t":"-250","x":-8.81,"y":5.2},
      {"t":"-150","x":-7.17,"y":5.2},
      {"t":"-50","x":-3.47,"y":5.2},
      {"t":"0","x":-0.09,"y":5.2},
      {"t":"100","x":5.67,"y":5.2},
      {"t":"200","x":7.96,"y":5.2},
      {"t":"300","x":9.0,"y":5.2},
      {"t":"∞","x":-9.9,"y":-5.62},
      {"t":"300","x":-8.84,"y":-5.62},
      {"t":"200","x":-7.75,"y":-5.62},
      {"t":"100","x":-5.49,"y":-5.62},
      {"t":"400","x":-9.45,"y":-6.04},
      {"t":"0","x":0.06,"y":-5.55},
      {"t":"-50","x":3.7,"y":-5.55},
      {"t":"-150","x":7.02,"y":-5.55},
      {"t":"-250","x":8.6,"y":-5.55}
    ],
    "title_main": [{"t":"U","x":0,"y":-6.9}],
    "title_sub": [{"t":"xz","x":0.5,"y":-7.05}]
  },
  "layer": [
    {
      "data": {"name": "contours"},
      "mark": {"type": "line", "interpolate": "catmull-rom", "clip": true, "color": "#282828"},
      "encoding": {
        "x": {"field": "x", "type": "quantitative", "scale": {"domain": [-10, 8.912], "nice": false, "zero": false}, "axis": null},
        "y": {"field": "y", "type": "quantitative", "scale": {"domain": [-5.1, 5.1], "nice": false, "zero": false}, "axis": null},
        "detail": [{"field": "q"}, {"field": "v"}],
        "strokeWidth": {
          "condition": {"test": "indexof([50, 100, 150, 200, 300, 400], abs(datum.v)) >= 0", "value": 2},
          "value": 1
        }
      }
    },
    {
      "data": {"values": [{}]},
      "mark": {"type": "rule", "color": "#262626", "strokeWidth": 1.6},
      "encoding": {"x": {"datum": -10, "type": "quantitative", "scale": {"domain": [-10, 8.912], "nice": false, "zero": false}}}
    },
    {
      "data": {"values": [{}]},
      "mark": {"type": "rule", "color": "#262626", "strokeWidth": 1.6},
      "encoding": {"y": {"datum": 5.1, "type": "quantitative", "scale": {"domain": [-5.1, 5.1], "nice": false, "zero": false}}}
    },
    {
      "data": {"values": [{}]},
      "mark": {"type": "rule", "color": "#262626", "strokeWidth": 1.6},
      "encoding": {"y": {"datum": -5.1, "type": "quantitative", "scale": {"domain": [-5.1, 5.1], "nice": false, "zero": false}}}
    },
    {
      "data": {"values": [{}]},
      "mark": {"type": "rule", "color": "#262626", "strokeWidth": 1.5},
      "encoding": {"y": {"datum": 0, "type": "quantitative", "scale": {"domain": [-5.1, 5.1], "nice": false, "zero": false}}}
    },
    {
      "data": {"values": [{}]},
      "mark": {"type": "rule", "color": "#262626", "strokeWidth": 1.5},
      "encoding": {"x": {"datum": 0, "type": "quantitative", "scale": {"domain": [-10, 8.912], "nice": false, "zero": false}}}
    },
    {
      "data": {"name": "xticks"},
      "mark": {"type": "tick", "orient": "vertical", "size": 19, "thickness": 1.3, "color": "#262626"},
      "encoding": {
        "x": {"field": "x", "type": "quantitative", "scale": {"domain": [-10, 8.912], "nice": false, "zero": false}},
        "y": {"datum": 0, "type": "quantitative", "scale": {"domain": [-5.1, 5.1], "nice": false, "zero": false}}
      }
    },
    {
      "data": {"name": "yticks"},
      "mark": {"type": "tick", "orient": "horizontal", "size": 20, "thickness": 1.3, "color": "#262626"},
      "encoding": {
        "x": {"datum": 0, "type": "quantitative", "scale": {"domain": [-10, 8.912], "nice": false, "zero": false}},
        "y": {"field": "y", "type": "quantitative", "scale": {"domain": [-5.1, 5.1], "nice": false, "zero": false}}
      }
    },
    {
      "data": {"name": "labels"},
      "mark": {"type": "text", "font": "Liberation Sans", "color": "#2e2e2e", "align": "center", "baseline": "alphabetic"},
      "encoding": {
        "x": {"field": "x", "type": "quantitative", "scale": {"domain": [-10, 8.912], "nice": false, "zero": false}},
        "y": {"field": "y", "type": "quantitative", "scale": {"domain": [-5.1, 5.1], "nice": false, "zero": false}},
        "text": {"field": "t"},
        "size": {"condition": {"test": "indexof(datum.t, '∞') >= 0", "value": 19}, "value": 15}
      }
    },
    {
      "data": {"name": "title_main"},
      "mark": {"type": "text", "font": "Liberation Serif", "fontSize": 26, "color": "#2e2e2e", "align": "left", "baseline": "alphabetic"},
      "encoding": {
        "x": {"field": "x", "type": "quantitative", "scale": {"domain": [-10, 8.912], "nice": false, "zero": false}},
        "y": {"field": "y", "type": "quantitative", "scale": {"domain": [-5.1, 5.1], "nice": false, "zero": false}},
        "text": {"field": "t"}
      }
    },
    {
      "data": {"name": "title_sub"},
      "mark": {"type": "text", "font": "Liberation Serif", "fontStyle": "italic", "fontSize": 18, "color": "#2e2e2e", "align": "left", "baseline": "alphabetic"},
      "encoding": {
        "x": {"field": "x", "type": "quantitative", "scale": {"domain": [-10, 8.912], "nice": false, "zero": false}},
        "y": {"field": "y", "type": "quantitative", "scale": {"domain": [-5.1, 5.1], "nice": false, "zero": false}},
        "text": {"field": "t"}
      }
    }
  ]
}
